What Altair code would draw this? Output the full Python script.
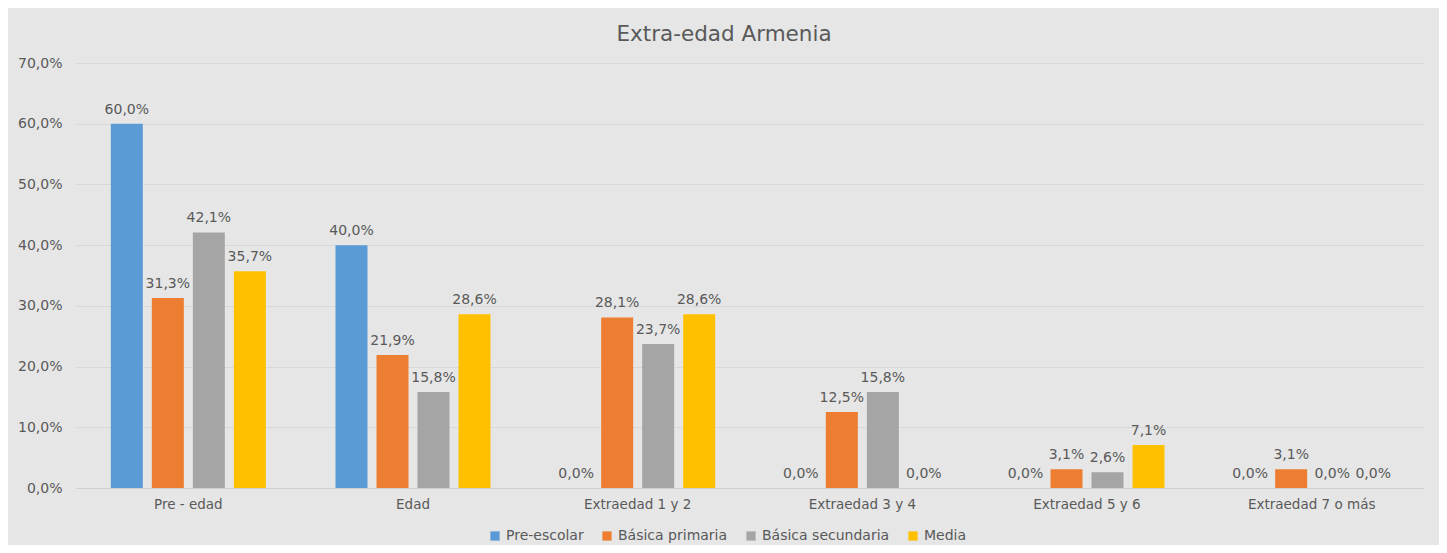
import altair as alt
import pandas as pd

categories = ["Pre - edad", "Edad", "Extraedad 1 y 2", "Extraedad 3 y 4", "Extraedad 5 y 6", "Extraedad 7 o más"]
series = ["Pre-escolar", "Básica primaria", "Básica secundaria", "Media"]
pre_escolar = [60.0, 40.0, 0.0, 0.0, 0.0, 0.0]
basica_primaria = [31.3, 21.9, 28.1, 12.5, 3.1, 3.1]
basica_secundaria = [42.1, 15.8, 23.7, 15.8, 2.6, 0.0]
media = [35.7, 28.6, 28.6, 0.0, 7.1, 0.0]
colors = ["#5B9BD5", "#ED7D31", "#A5A5A5", "#FFC000"]

rows = []
for s, vals in zip(series, [pre_escolar, basica_primaria, basica_secundaria, media]):
    for c, v in zip(categories, vals):
        rows.append({"cat": c, "serie": s, "value": v})
df = pd.DataFrame(rows)

FONT = "DejaVu Sans"

base = alt.Chart(df).encode(
    x=alt.X("cat:N", sort=categories, title=None,
            scale=alt.Scale(paddingInner=0.31, paddingOuter=0.155),
            axis=alt.Axis(labelAngle=0, labelFont=FONT, labelFontSize=13.5, labelColor="#595959",
                          domain=True, domainColor="#d0d0d0", ticks=False, labelPadding=9, grid=False)),
    xOffset=alt.XOffset("serie:N", sort=series, scale=alt.Scale(paddingInner=0.22, paddingOuter=0)),
)

bars = base.mark_bar().encode(
    y=alt.Y("value:Q", title=None,
            scale=alt.Scale(domain=[0, 70], nice=False),
            axis=alt.Axis(values=[0, 10, 20, 30, 40, 50, 60, 70],
                          labelExpr="replace(format(datum.value, '.1f'), '.', ',') + '%'",
                          labelFont=FONT, labelFontSize=14, labelColor="#595959",
                          labelPadding=14, domain=False, ticks=False,
                          gridColor="#d8d8d8", gridWidth=1)),
    color=alt.Color("serie:N", sort=series, scale=alt.Scale(domain=series, range=colors),
                    legend=alt.Legend(title=None, orient="none", direction="horizontal",
                                      legendX=412, legendY=466,
                                      symbolType="square", symbolSize=85, symbolStrokeWidth=0,
                                      labelFont=FONT, labelFontSize=14, labelColor="#595959",
                                      columnPadding=16, labelOffset=4)),
)

labels = base.mark_text(font=FONT, fontSize=14, color="#595959", dy=-14, baseline="middle").encode(
    y=alt.Y("value:Q"),
    text=alt.Text("label:N"),
).transform_calculate(label="replace(format(datum.value, '.1f'), '.', ',') + '%'")

chart = alt.layer(bars, labels).properties(
    width=1348, height=425,
    autosize=alt.AutoSizeParams(type="none"),
    padding={"left": 68, "top": 55, "right": 15, "bottom": 57},
    background="#e6e6e6",
    title=alt.TitleParams("Extra-edad Armenia", font=FONT, fontSize=21.5, fontWeight="normal",
                          color="#595959", anchor="middle", dx=-26, offset=11),
).configure_view(stroke=None, fill="#e6e6e6")

chart.save("out.html", embed_options={"renderer": "svg", "actions": False})
